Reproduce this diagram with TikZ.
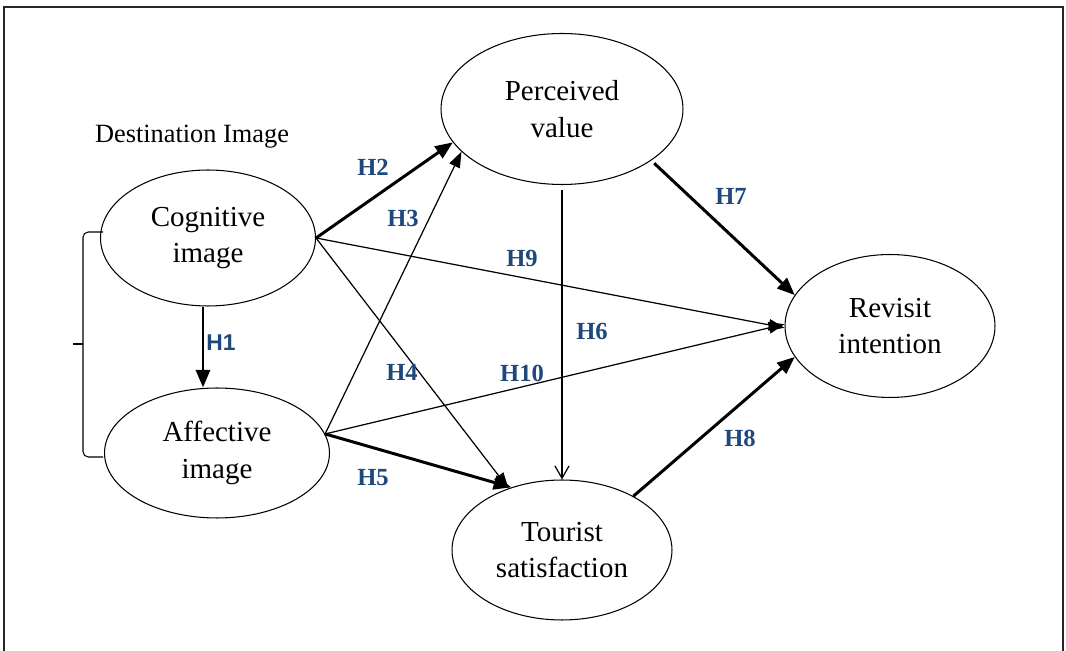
\documentclass[tikz,border=0pt]{standalone}
\usepackage{fontspec}
\setmainfont{Liberation Serif}
\newfontfamily\hsans{Liberation Sans}
\usepackage{tikz}
\usetikzlibrary{arrows.meta,positioning,shapes.geometric,calc}
\usepackage{xcolor}
\definecolor{hblue}{RGB}{31,73,125}

\begin{document}
\begin{tikzpicture}[
        x=0.02cm, y=-0.02cm,
        % Estilos
        ellip/.style={ellipse, draw, line width=0.6pt, inner sep=0pt, align=center, font=\fontsize{16.5}{21}\selectfont},
        hlabel/.style={text=hblue, font=\fontsize{14}{16}\selectfont\bfseries},
        arrow/.style={-{Triangle[length=9pt, width=6.5pt]}, line width=0.7pt},
        thickarrow/.style={-{Triangle[length=10pt, width=8pt]}, line width=1.7pt}
    ]
        \useasboundingbox (0,0) rectangle (1066,651);
        % Moldura
        \draw [line width=0.6pt, black!85] (4,651) -- (4,7) -- (1063,7) -- (1063,651);

        % Construtos
        \node (cog) [ellip, minimum width=4.3cm, minimum height=2.72cm] at (208,238) {Cognitive\\image};
        \node (aff) [ellip, minimum width=4.5cm, minimum height=2.6cm] at (217,453) {Affective\\image};
        \node (perc) [ellip, minimum width=4.84cm, minimum height=3.02cm] at (562,109) {Perceived\\value};
        \node (tour) [ellip, minimum width=4.4cm, minimum height=2.8cm] at (562,550) {Tourist\\satisfaction};
        \node (rev) [ellip, minimum width=4.2cm, minimum height=2.86cm] at (890,326) {Revisit\\intention};

        % Imagem de destino (chave)
        \node (dest) [font=\fontsize{15}{18}\selectfont] at (192,137) {Destination Image};
        \draw [line width=0.6pt, rounded corners=3pt] (103,232) -- (83,232) -- (83,457) -- (103,457);
        \draw [line width=0.6pt] (83,344) -- (73,344);

        % --- Hipoteses ---
        \draw [thickarrow] ([xshift=-0.1cm]cog.south) -- ([xshift=-0.1cm]cog.south |- aff.north);
        \draw [thickarrow] (cog.east) -- (perc.197);
        \draw [arrow] (aff.10) -- (perc.203);
        \draw [arrow] (cog.east) -- (tour.131);
        \draw [thickarrow] (aff.10) -- (tour.129);
        \draw [arrow, -{Straight Barb[length=7pt, width=8pt]}, shorten <=0.1cm] (perc.south) -- (tour.north);
        \draw [thickarrow, shorten <=0.08cm] (perc.-30) -- (rev.162);
        \draw [thickarrow] (tour.37) -- (rev.198);
        \draw [arrow] (cog.east) -- (rev.181);
        \draw [arrow] (aff.10) -- (rev.179);

        % Rotulos
        \node (h1) [hlabel, font=\hsans\fontsize{13}{16}\selectfont\bfseries] at (221,343) {H1};
        \node (h2) [hlabel] at (373,167) {H2};
        \node (h3) [hlabel] at (403,218) {H3};
        \node (h4) [hlabel] at (402,372) {H4};
        \node (h5) [hlabel] at (373,478) {H5};
        \node (h6) [hlabel] at (592,331) {H6};
        \node (h7) [hlabel] at (731,196) {H7};
        \node (h8) [hlabel] at (740,438) {H8};
        \node (h9) [hlabel] at (522,258) {H9};
        \node (h10) [hlabel] at (522,373) {H10};

    \end{tikzpicture}
\end{document}
